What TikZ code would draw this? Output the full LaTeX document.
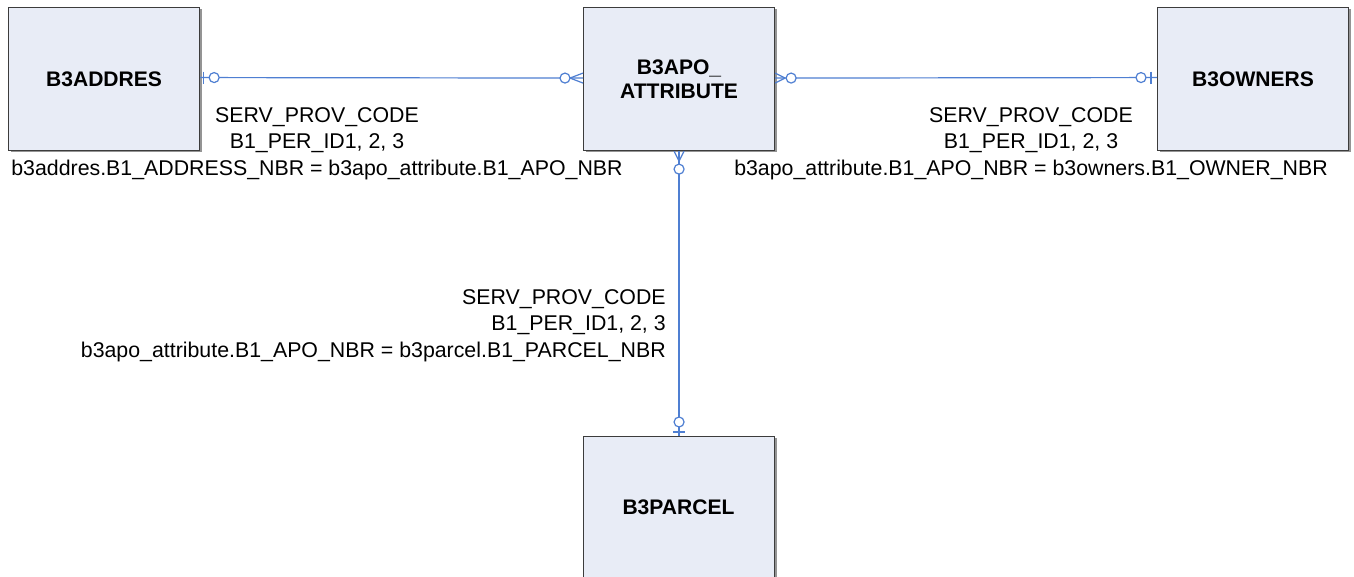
\documentclass[tikz,border=0pt]{standalone}
\usepackage{fontspec}
\setmainfont{Liberation Sans}
\usetikzlibrary{calc}
\definecolor{entfill}{HTML}{E8ECF6}
\definecolor{entline}{HTML}{3C3C3C}
\definecolor{relblue}{HTML}{4F7FD2}
\tikzset{
  entity/.style={draw=entline, line width=1.1pt, fill=entfill, minimum width=143pt,
    minimum height=107pt, inner sep=0pt, align=center, font=\bfseries\fontsize{15.8}{18}\selectfont},
  shadowbox/.style={fill=entline!55},
  rel/.style={draw=relblue, line width=0.9pt},
  relmark/.style={draw=relblue, line width=0.9pt, fill=white},
  joinlabel/.style={font=\fontsize{16}{20}\selectfont, inner sep=0pt}
}
\begin{document}
\begin{tikzpicture}[x=0.75pt,y=-0.75pt]
\clip (0,0) rectangle (1354,577);
\fill[white] (0,0) rectangle (1354,577);

% entity boxes with a small drop shadow
\foreach \x/\y/\h in {8/7/143, 583/7/143, 1157/7/143, 583/436/160}{
  \fill[shadowbox] (\x+2.5,\y+2.5) rectangle ++(191,\h);
}
\node[entity, anchor=north west] (addr) at (8,7) {B3ADDRES};
\node[entity, anchor=north west] (apo) at (583,7) {B3APO\_\\ATTRIBUTE};
\node[entity, anchor=north west] (own) at (1157,7) {B3OWNERS};
\node[entity, anchor=north west, minimum height=120pt] (parc) at (583,436) {};
\node[font=\bfseries\fontsize{15.8}{18}\selectfont] (parclabel) at (678.5,507) {B3PARCEL};

% relationship lines
\coordinate (aA) at ($(addr.east)+(0,-1.5)$);
\coordinate (pA) at ($(apo.west)+(0,-1)$);
\coordinate (pO) at ($(apo.east)+(0,-1)$);
\coordinate (oA) at ($(own.west)+(0,-1.5)$);
\coordinate (pB) at ($(apo.south)+(0,0)$);
\coordinate (rT) at ($(parc.north)+(0,0)$);
\draw[rel] (aA) -- (pA);
\draw[rel] (pO) -- (oA);
\draw[rel] (pB) -- (rT);

% B3ADDRES end: one (bar) and optional (circle)
\draw[rel] ($(aA)+(3,-6)$) -- ($(aA)+(3,6)$);
\draw[relmark] ($(aA)+(14,0)$) circle (5);
% B3APO_ATTRIBUTE left end: many (crow's foot) and optional
\draw[rel] ($(pA)+(-13,0)$) -- ($(pA)+(0,-5)$) ($(pA)+(-13,0)$) -- ($(pA)+(0,5)$);
\draw[relmark] ($(pA)+(-18,0)$) circle (5);
% B3APO_ATTRIBUTE right end
\draw[rel] ($(pO)+(10,0)$) -- ($(pO)+(0,-5)$) ($(pO)+(10,0)$) -- ($(pO)+(0,5)$);
\draw[relmark] ($(pO)+(16,0)$) circle (5);
% B3OWNERS end
\draw[rel] ($(oA)+(-6,-6)$) -- ($(oA)+(-6,6)$);
\draw[relmark] ($(oA)+(-16,0)$) circle (5);
% B3APO_ATTRIBUTE bottom end
\draw[rel] ($(pB)+(0,10)$) -- ($(pB)+(-5,0)$) ($(pB)+(0,10)$) -- ($(pB)+(5,0)$);
\draw[relmark] ($(pB)+(0,18)$) circle (5);
% B3PARCEL end
\draw[rel] ($(rT)+(-6,-4)$) -- ($(rT)+(6,-4)$);
\draw[relmark] ($(rT)+(0,-14)$) circle (5);

% join labels
\node[joinlabel, align=center, anchor=north] (lblL) at (317,107)
  {SERV\_PROV\_CODE\\B1\_PER\_ID1, 2, 3\\b3addres.B1\_ADDRESS\_NBR = b3apo\_attribute.B1\_APO\_NBR};
\node[joinlabel, align=center, anchor=north] (lblR) at (1031,107)
  {SERV\_PROV\_CODE\\B1\_PER\_ID1, 2, 3\\b3apo\_attribute.B1\_APO\_NBR = b3owners.B1\_OWNER\_NBR};
\node[joinlabel, align=right, anchor=north east] (lblB) at (666,289)
  {SERV\_PROV\_CODE\\B1\_PER\_ID1, 2, 3\\b3apo\_attribute.B1\_APO\_NBR = b3parcel.B1\_PARCEL\_NBR};
\end{tikzpicture}
\end{document}
